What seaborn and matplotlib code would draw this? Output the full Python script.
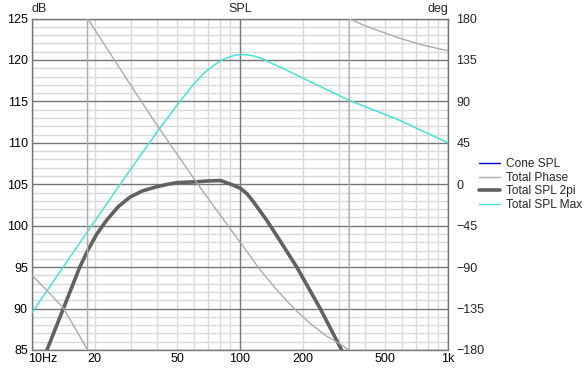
import numpy as np
import pandas as pd
import matplotlib
matplotlib.use("Agg")
import matplotlib.pyplot as plt
import seaborn as sns
from matplotlib.lines import Line2D
from matplotlib.transforms import ScaledTranslation

# Total SPL Max (dB) vs frequency (Hz)
MAX_FREQ = [10, 18.5, 29.6, 40.2, 50, 59.6, 67, 74.4, 82, 89.6, 96, 103, 110,
            120, 130, 139, 160, 201, 330, 587, 1000]
MAX_SPL = [89.5, 99.3, 106.7, 111.4, 114.6, 117.0, 118.4, 119.3, 120.0, 120.4, 120.6, 120.65, 120.6,
           120.4, 120.1, 119.7, 119.0, 117.8, 115.2, 112.7, 110.0]

# Total SPL 2pi (dB) vs frequency (Hz)
SPL_FREQ = [11.8, 14.1, 16.9, 18.6, 20.5, 22.9, 26, 29.6, 34, 39.8, 45, 50, 62, 70, 80.6,
            92.5, 100.8, 108, 115.5, 134, 155.6, 187.5, 243, 308]
SPL_2PI = [85.0, 89.9, 94.9, 97.1, 99.0, 100.7, 102.3, 103.45, 104.2, 104.7, 105.0, 105.2, 105.3, 105.4, 105.45,
           104.9, 104.5, 103.85, 102.95, 100.7, 98.2, 95.0, 90.0, 85.0]

# Cone SPL lies under the total 2pi curve
CONE_FREQ = SPL_FREQ
CONE_SPL = SPL_2PI

# Total Phase (deg), wrapped at +-180
PHASE_FREQ = [10, 12, 14.1, 16, 18.5, 18.5, 24, 29.6, 35, 40.2, 46.1, 55.5, 64, 80, 100, 125, 150,
              180, 216, 261, 297, 335, 335, 400, 587, 750, 1000]
PHASE = [-99, -117, -134, -155, -180, 180, 140.6, 108.7, 83.6, 63.3, 43.6, 17.4, -2.7, -33, -62.7, -93, -114.5,
         -134, -150.6, -165, -172.3, -180, 180, 172, 158.5, 151.3, 145]

X_MAJOR = [10, 100, 1000]
X_MAJOR_LABELS = ["10Hz", "100", "1k"]
X_MINOR = [20, 30, 40, 50, 60, 70, 80, 90, 200, 300, 400, 500, 600, 700, 800, 900]
X_MINOR_LABELS = ["20", "", "", "50", "", "", "", "", "200", "", "", "500", "", "", "", ""]
DB_TICKS = [85, 90, 95, 100, 105, 110, 115, 120, 125]
DEG_TICKS = [-180, -135, -90, -45, 0, 45, 90, 135, 180]

C_CONE = "#0000c8"
C_PHASE = "#ababab"
C_2PI = "#616161"
C_MAX = "#48e2d6"
C_MAJOR = "#767676"
C_MINOR = "#d9d9d9"

sns.set_theme(style="white")
plt.rcParams["font.family"] = ["Liberation Sans", "DejaVu Sans"]
plt.rcParams["font.size"] = 9

fig = plt.figure(figsize=(5.85, 3.68), dpi=100)
W, H = 585, 368
ax = fig.add_axes([32 / W, (H - 350) / H, 416 / W, (350 - 18.5) / H])
ax.set_xscale("log")

max_df = pd.DataFrame({"freq": MAX_FREQ, "spl": MAX_SPL})
spl_df = pd.DataFrame({"freq": SPL_FREQ, "spl": SPL_2PI})
cone_df = pd.DataFrame({"freq": CONE_FREQ, "spl": CONE_SPL})
phase_df = pd.DataFrame({"freq": PHASE_FREQ, "phase": PHASE})

sns.lineplot(data=cone_df, x="freq", y="spl", ax=ax, color=C_CONE, lw=1,
             estimator=None, sort=False, zorder=3)
sns.lineplot(data=spl_df, x="freq", y="spl", ax=ax, color=C_2PI, lw=2.6,
             estimator=None, sort=False, zorder=4)
sns.lineplot(data=max_df, x="freq", y="spl", ax=ax, color=C_MAX, lw=1.1,
             estimator=None, sort=False, zorder=5)

ax.set_xlim(10, 1000)
ax.set_ylim(85, 125)
ax.set_xticks(X_MAJOR)
ax.set_xticklabels(X_MAJOR_LABELS)
ax.set_xticks(X_MINOR, minor=True)
ax.set_xticklabels(X_MINOR_LABELS, minor=True)
ax.set_yticks(DB_TICKS)
ax.set_yticks(np.arange(85, 126, 1), minor=True)
ax.tick_params(which="both", length=0, labelsize=9, colors="black")
ax.tick_params(axis="x", which="both", pad=2)
ax.tick_params(axis="y", pad=3)

# light grid underneath, dark major lines drawn on top of it
ax.grid(which="minor", color=C_MINOR, lw=1, zorder=0.4)
ax.grid(which="major", visible=False)
ax.set_axisbelow(True)
for fx in X_MAJOR:
    ax.axvline(fx, color=C_MAJOR, lw=1, zorder=1.5)
for db in DB_TICKS:
    ax.axhline(db, color=C_MAJOR, lw=1, zorder=1.5)
ax.set_xlabel("")
ax.set_ylabel("")
for s in ax.spines.values():
    s.set_color(C_MAJOR)
    s.set_linewidth(1)

# "10Hz" sits to the right of the axis corner
first = ax.get_xticklabels()[0]
first.set_horizontalalignment("left")
first.set_transform(first.get_transform() + ScaledTranslation(-4 / 100, 0, fig.dpi_scale_trans))

ax2 = ax.twinx()
sns.lineplot(data=phase_df, x="freq", y="phase", ax=ax2, color=C_PHASE, lw=1,
             estimator=None, sort=False)
ax2.set_ylim(-180, 180)
ax2.set_yticks(DEG_TICKS)
ax2.tick_params(length=0, labelsize=9, pad=6)
ax2.set_ylabel("")
ax2.grid(False)
for s in ax2.spines.values():
    s.set_visible(False)

ax.text(0.0, 1.012, "dB", transform=ax.transAxes, ha="left", va="bottom", fontsize=9)
ax.text(1.0, 1.012, "deg", transform=ax.transAxes, ha="right", va="bottom", fontsize=9)
ax.text(0.5, 1.012, "SPL", transform=ax.transAxes, ha="center", va="bottom", fontsize=9)

handles = [
    Line2D([], [], color=C_CONE, lw=1),
    Line2D([], [], color=C_PHASE, lw=1),
    Line2D([], [], color=C_2PI, lw=2.6),
    Line2D([], [], color=C_MAX, lw=1),
]
labels = ["Cone SPL", "Total Phase", "Total SPL 2pi", "Total SPL Max"]
fig.legend(handles, labels, loc="upper left", bbox_to_anchor=(477 / W, 1 - 156 / H),
           frameon=False, fontsize=8.6, handlelength=1.75, handletextpad=0.45,
           labelspacing=0.12, borderaxespad=0, borderpad=0.2)

fig.savefig("out.png", dpi=100)
